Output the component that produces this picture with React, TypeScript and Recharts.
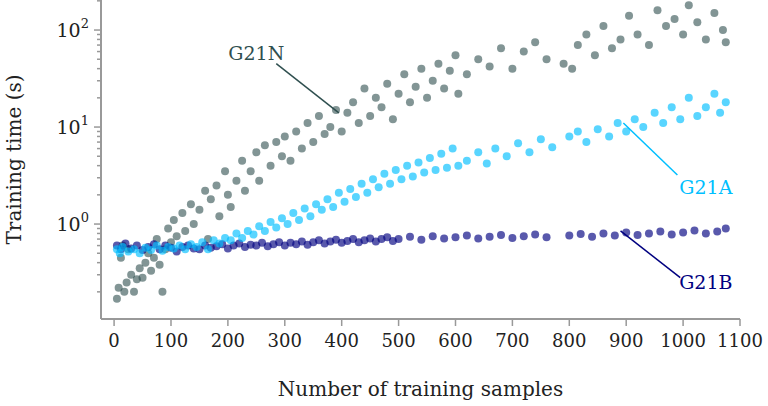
import { ScatterChart, Scatter, XAxis, YAxis, ReferenceLine, ReferenceDot } from "recharts"

const G21N: [number, number][] = [
  [5, 0.17], [8, 0.22], [12, 0.45], [15, 0.6], [18, 0.2], [22, 0.25], [25, 0.55], [30, 0.3], [35, 0.2], [40, 0.27],
  [45, 0.35], [50, 0.28], [55, 0.4], [60, 0.5], [65, 0.33], [70, 0.45], [75, 0.7], [80, 0.38], [85, 0.2], [90, 0.55],
  [95, 0.9], [100, 0.65], [105, 1.1], [110, 0.75], [120, 1.3], [125, 0.85], [135, 1.6], [140, 1.0], [150, 1.4], [160, 2.2],
  [165, 0.7], [170, 1.8], [180, 2.5], [185, 1.2], [195, 3.5], [200, 2.0], [205, 1.5], [215, 2.8], [225, 4.5], [230, 2.2],
  [240, 3.5], [250, 5.5], [255, 2.8], [265, 6.5], [275, 4], [285, 7], [295, 5], [300, 8], [310, 4.5], [320, 9],
  [330, 6], [340, 11], [350, 7], [360, 13], [370, 8.5], [380, 10], [390, 15], [400, 9], [410, 14], [420, 18],
  [430, 11], [440, 25], [450, 13], [460, 20], [470, 16], [480, 28], [490, 12], [500, 22], [510, 35], [520, 18],
  [530, 26], [540, 40], [550, 20], [560, 30], [570, 45], [580, 25], [590, 38], [600, 55], [605, 22], [620, 35],
  [640, 50], [660, 42], [680, 65], [700, 40], [720, 60], [740, 75], [760, 50], [790, 45], [805, 40], [815, 70],
  [830, 90], [845, 55], [860, 110], [875, 65], [890, 80], [905, 140], [920, 90], [940, 70], [955, 160], [970, 110],
  [985, 130], [1000, 90], [1010, 180], [1025, 120], [1040, 80], [1055, 150], [1070, 100], [1075, 75],
]

const G21A: [number, number][] = [
  [5, 0.55], [10, 0.5], [15, 0.58], [25, 0.52], [35, 0.55], [45, 0.5], [55, 0.57], [65, 0.54], [75, 0.6], [85, 0.53],
  [95, 0.58], [105, 0.56], [115, 0.6], [125, 0.55], [135, 0.62], [145, 0.58], [155, 0.65], [165, 0.55], [175, 0.68], [185, 0.63],
  [195, 0.72], [205, 0.68], [215, 0.8], [225, 0.72], [235, 0.85], [245, 0.78], [255, 0.95], [265, 0.85], [275, 1.05], [285, 0.92],
  [295, 1.15], [305, 1.0], [315, 1.3], [325, 1.1], [335, 1.45], [345, 1.2], [355, 1.6], [365, 1.4], [375, 1.8], [385, 1.5],
  [395, 2.1], [405, 1.7], [415, 2.3], [425, 1.9], [435, 2.6], [445, 2.1], [455, 2.9], [465, 2.4], [475, 3.3], [485, 2.6],
  [495, 3.6], [505, 2.9], [515, 4.0], [525, 3.1], [535, 4.3], [545, 3.4], [555, 4.8], [565, 3.6], [575, 5.3], [585, 3.8],
  [595, 6], [605, 4], [620, 4.5], [640, 5.5], [655, 4.2], [670, 6], [690, 5], [710, 6.8], [730, 5.5], [750, 7.5],
  [770, 6.2], [800, 8], [815, 9], [830, 7], [850, 9.5], [870, 8], [885, 11], [900, 9], [915, 12], [930, 10],
  [950, 14], [965, 11], [980, 16], [995, 12], [1010, 20], [1025, 13], [1040, 16], [1055, 22], [1065, 14], [1075, 18],
]

const G21B: [number, number][] = [
  [5, 0.6], [12, 0.55], [20, 0.63], [30, 0.56], [40, 0.6], [50, 0.54], [60, 0.58], [70, 0.62], [80, 0.55], [90, 0.6],
  [100, 0.57], [110, 0.52], [120, 0.58], [130, 0.6], [140, 0.56], [150, 0.55], [160, 0.6], [170, 0.57], [180, 0.59], [190, 0.62],
  [200, 0.56], [210, 0.6], [220, 0.63], [230, 0.58], [240, 0.61], [250, 0.6], [260, 0.64], [270, 0.59], [280, 0.62], [290, 0.65],
  [300, 0.6], [310, 0.64], [320, 0.62], [330, 0.66], [340, 0.61], [350, 0.65], [360, 0.68], [370, 0.63], [380, 0.66], [390, 0.69],
  [400, 0.64], [410, 0.67], [420, 0.7], [430, 0.65], [440, 0.68], [450, 0.71], [460, 0.66], [470, 0.7], [480, 0.73], [490, 0.67],
  [500, 0.7], [520, 0.74], [540, 0.69], [560, 0.75], [580, 0.71], [600, 0.73], [620, 0.76], [640, 0.71], [660, 0.74], [680, 0.77],
  [700, 0.72], [720, 0.75], [740, 0.78], [760, 0.73], [800, 0.76], [820, 0.79], [840, 0.74], [860, 0.8], [880, 0.76], [900, 0.82],
  [920, 0.77], [940, 0.8], [960, 0.84], [980, 0.78], [1000, 0.82], [1020, 0.86], [1040, 0.8], [1060, 0.84], [1075, 0.9],
]

const X_TICKS = [0, 100, 200, 300, 400, 500, 600, 700, 800, 900, 1000, 1100]
const Y_TICKS = [
  0.2, 0.3, 0.4, 0.5, 0.6, 0.7, 0.8, 0.9, 1, 2, 3, 4, 5, 6, 7, 8, 9, 10,
  20, 30, 40, 50, 60, 70, 80, 90, 100, 200,
]

const FONT = "'DejaVu Serif', serif"
const AXIS = "#999"

const toPts = (d: [number, number][]) => d.map(([x, y]) => ({ x, y }))

function YTick({ x, y, payload }: any) {
  const v = payload.value
  const exp = Math.log10(v)
  const major = Math.abs(exp - Math.round(exp)) < 1e-6
  return (
    <g>
      <line x1={x - (major ? 7 : 4)} x2={x} y1={y} y2={y} stroke={AXIS} strokeWidth={1.5} />
      {major && (
        <text x={x - 12} y={y + 7} textAnchor="end" fontFamily={FONT} fontSize={19} fill="#222">
          10<tspan dy={-9} fontSize={13}>{Math.round(exp)}</tspan>
        </text>
      )}
    </g>
  )
}

const dot = (color: string, op: number) => (p: any) => (
  <circle cx={p.cx} cy={p.cy} r={4} fill={color} fillOpacity={op} />
)

export default function App() {
  return (
    <div>
      <style>{"body{margin:0}"}</style>
      <ScatterChart width={768} height={406} margin={{ top: 0, right: 28, left: 0, bottom: 0 }}>
        <XAxis
          type="number"
          dataKey="x"
          domain={[-23, 1100]}
          ticks={X_TICKS}
          height={87}
          axisLine={{ stroke: AXIS, strokeWidth: 2 }}
          tickLine={{ stroke: AXIS, strokeWidth: 1.5 }}
          tickSize={7}
          tick={{ fill: "#222", fontFamily: FONT, fontSize: 18 }}
          tickMargin={8}
          label={{ value: "Number of training samples", position: "insideBottom", offset: 10, fill: "#222", fontFamily: FONT, fontSize: 20 }}
        />
        <YAxis
          type="number"
          dataKey="y"
          scale="log"
          domain={[0.105, 204]}
          ticks={Y_TICKS}
          width={101}
          allowDataOverflow
          axisLine={{ stroke: AXIS, strokeWidth: 2 }}
          tickLine={false}
          tickSize={0}
          tickMargin={0}
          tick={<YTick />}
          interval={0}
          label={{ value: "Training time (s)", angle: -90, position: "insideLeft", offset: 0, dx: 14, fill: "#222", fontFamily: FONT, fontSize: 20, style: { textAnchor: "middle" } }}
        />
        <Scatter data={toPts(G21N)} fill="#2f4f4f" shape={dot("#2f4f4f", 0.6)} isAnimationActive={false} />
        <Scatter data={toPts(G21B)} fill="#000080" shape={dot("#000080", 0.65)} isAnimationActive={false} />
        <Scatter data={toPts(G21A)} fill="#00bfff" shape={dot("#00bfff", 0.65)} isAnimationActive={false} />
        <ReferenceLine segment={[{ x: 285, y: 45 }, { x: 395, y: 14 }]} stroke="#2f4f4f" strokeWidth={1.5} />
        <ReferenceLine segment={[{ x: 895, y: 11 }, { x: 990, y: 3.2 }]} stroke="#00bfff" strokeWidth={1.5} />
        <ReferenceLine segment={[{ x: 890, y: 0.85 }, { x: 995, y: 0.28 }]} stroke="#000080" strokeWidth={1.5} />
        <ReferenceDot x={250} y={57} r={0} label={{ value: "G21N", fill: "#2f4f4f", fontFamily: FONT, fontSize: 19 }} />
        <ReferenceDot x={1040} y={2.4} r={0} label={{ value: "G21A", fill: "#00bfff", fontFamily: FONT, fontSize: 19 }} />
        <ReferenceDot x={1040} y={0.25} r={0} label={{ value: "G21B", fill: "#000080", fontFamily: FONT, fontSize: 19 }} />
      </ScatterChart>
    </div>
  )
}
